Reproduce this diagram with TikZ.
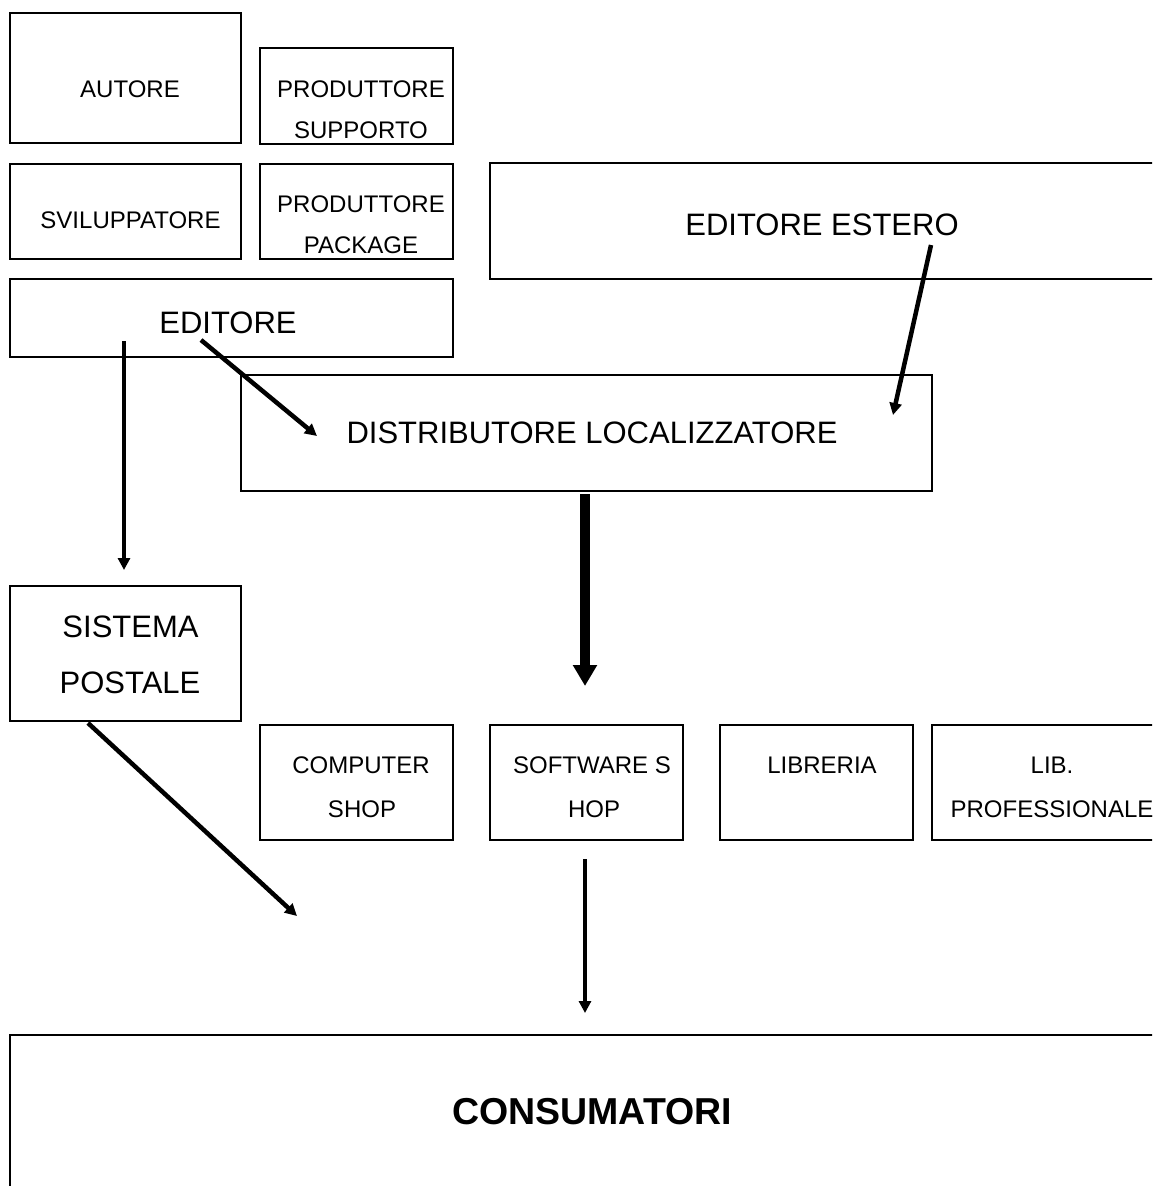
\documentclass[tikz,border=0pt]{standalone}
\usepackage{fontspec}
\setmainfont{Liberation Sans}
\usetikzlibrary{arrows.meta}
\tikzset{
  box/.style={draw, line width=1.8pt, inner sep=0pt, anchor=north west},
  smalltxt/.style={anchor=base, inner sep=0pt, font=\fontsize{24}{28}\selectfont},
  midtxt/.style={anchor=base, inner sep=0pt, font=\fontsize{31}{36}\selectfont},
  bigtxt/.style={anchor=base, inner sep=0pt, font=\fontsize{37.5}{42}\selectfont\bfseries},
  thinarrow/.style={line width=4.5pt, -{Triangle[length=12pt,width=12pt]}},
  thickarrow/.style={line width=10.5pt, -{Triangle[length=21pt,width=23pt]}}
}
\begin{document}
\begin{tikzpicture}[x=1pt,y=-1pt]
\clip (0,0) rectangle (1152,1186);
\fill[white] (0,0) rectangle (1152,1186);

% boxes
\node[box, minimum width=231pt, minimum height=130pt] (autore) at (9,12) {};
\node[box, minimum width=193pt, minimum height=96pt] (supporto) at (259,47) {};
\node[box, minimum width=231pt, minimum height=95pt] (svil) at (9,163) {};
\node[box, minimum width=193pt, minimum height=95pt] (package) at (259,163) {};
\node[box, minimum width=443pt, minimum height=78pt] (editore) at (9,278) {};
\node[box, minimum width=668pt, minimum height=116pt] (estero) at (489,162) {};
\node[box, minimum width=691pt, minimum height=116pt] (distr) at (240,374) {};
\node[box, minimum width=231pt, minimum height=135pt] (sistema) at (9,585) {};
\node[box, minimum width=193pt, minimum height=115pt] (computer) at (259,724) {};
\node[box, minimum width=193pt, minimum height=115pt] (software) at (489,724) {};
\node[box, minimum width=193pt, minimum height=115pt] (libreria) at (719,724) {};
\node[box, minimum width=239pt, minimum height=115pt] (libprof) at (931,724) {};
\node[box, minimum width=1166pt, minimum height=170pt] (consum) at (9,1034) {};

% texts
\node[smalltxt] (t-autore) at (130,97) {AUTORE};
\node[smalltxt] (t-sup1) at (361,97) {PRODUTTORE};
\node[smalltxt] (t-sup2) at (361,138) {SUPPORTO};
\node[smalltxt] (t-svil) at (130.5,228) {SVILUPPATORE};
\node[smalltxt] (t-pack1) at (361,212) {PRODUTTORE};
\node[smalltxt] (t-pack2) at (361,253) {PACKAGE};
\node[midtxt] (t-editore) at (228,333) {EDITORE};
\node[midtxt] (t-estero) at (822,235) {EDITORE ESTERO};
\node[midtxt] (t-distr) at (592,443) {DISTRIBUTORE LOCALIZZATORE};
\node[midtxt] (t-sis1) at (130.5,637) {SISTEMA};
\node[midtxt] (t-sis2) at (130,693) {POSTALE};
\node[smalltxt] (t-comp1) at (361,773) {COMPUTER};
\node[smalltxt] (t-comp2) at (362,817) {SHOP};
\node[smalltxt] (t-soft1) at (592,773) {SOFTWARE S};
\node[smalltxt] (t-soft2) at (594,817) {HOP};
\node[smalltxt] (t-lib) at (822,773) {LIBRERIA};
\node[smalltxt] (t-lp1) at (1052,773) {LIB.};
\node[smalltxt] (t-lp2) at (1052,817) {PROFESSIONALE};
\node[bigtxt] (t-cons) at (592,1124) {CONSUMATORI};

% connector end points
\coordinate (a1s) at (124,341);
\coordinate (a1e) at (124,570);
\coordinate (a2s) at (201,340);
\coordinate (a2e) at (317,436);
\coordinate (a3s) at (931,245);
\coordinate (a3e) at (893,415);
\coordinate (a4s) at (585,494);
\coordinate (a4e) at (585,686);
\coordinate (a5s) at (88,723);
\coordinate (a5e) at (297,916);
\coordinate (a6s) at (585,859);
\coordinate (a6e) at (585,1013);

% connectors
\draw[thinarrow] (a1s) -- (a1e);
\draw[thinarrow] (a2s) -- (a2e);
\draw[thinarrow] (a3s) -- (a3e);
\draw[thickarrow] (a4s) -- (a4e);
\draw[thinarrow] (a5s) -- (a5e);
\draw[thinarrow] (a6s) -- (a6e);
\end{tikzpicture}
\end{document}
